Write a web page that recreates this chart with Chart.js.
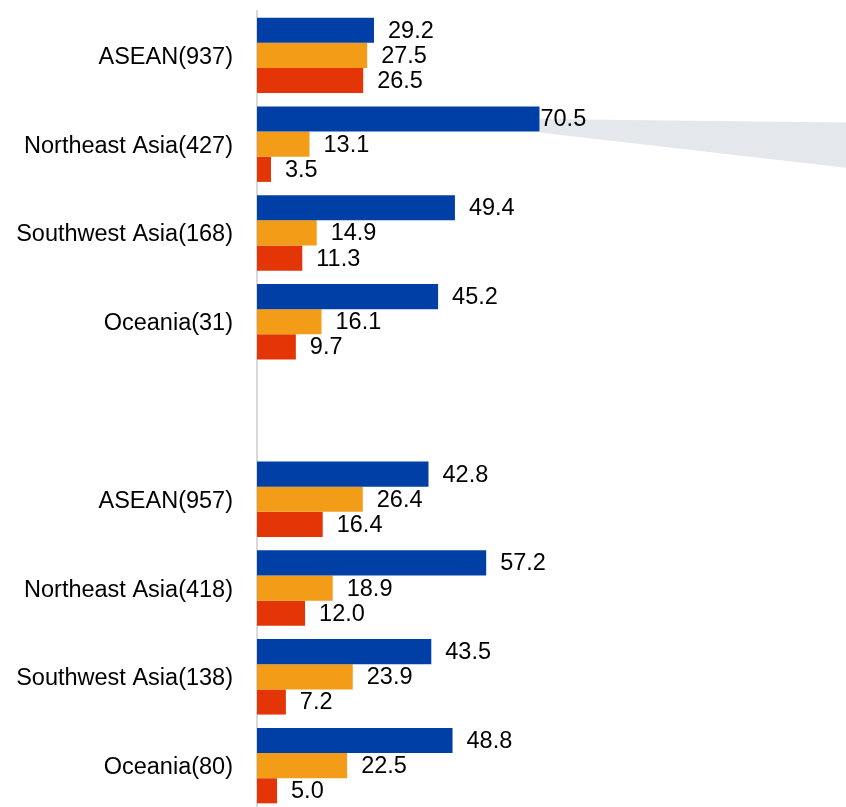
<!DOCTYPE html>
<html>
<head>
<meta charset="utf-8">
<script src="https://cdn.jsdelivr.net/npm/chart.js@4"></script>
<style>
  html, body { margin: 0; padding: 0; background: #fff; overflow: hidden; }
  #wrap { width: 846px; height: 810px; position: relative; }
</style>
</head>
<body>
<div id="wrap"><canvas id="regionChart"></canvas></div>
<script>
const categories = ['ASEAN(937)', 'Northeast Asia(427)', 'Southwest Asia(168)', 'Oceania(31)', '',
  'ASEAN(957)', 'Northeast Asia(418)', 'Southwest Asia(138)', 'Oceania(80)']
const blueValues = [29.2, 70.5, 49.4, 45.2, null, 42.8, 57.2, 43.5, 48.8]
const orangeValues = [27.5, 13.1, 14.9, 16.1, null, 26.4, 18.9, 23.9, 22.5]
const redValues = [26.5, 3.5, 11.3, 9.7, null, 16.4, 12.0, 7.2, 5.0]

// the bar the grey callout comes out of
const callout = { dataset: 0, index: 1 }

const font = { family: '"Liberation Sans", Arial, sans-serif', size: 23.5 }

const calloutWedge = {
  id: 'calloutWedge',
  beforeDatasetsDraw(chart) {
    const bar = chart.getDatasetMeta(callout.dataset).data[callout.index]
    if (!bar) return
    const ctx = chart.ctx
    const right = chart.width
    const h = bar.height
    ctx.save()
    ctx.fillStyle = '#e4e7ec'
    ctx.beginPath()
    ctx.moveTo(bar.x, bar.y)
    ctx.lineTo(right, bar.y + h * 0.14)
    ctx.lineTo(right, bar.y + h * 1.94)
    ctx.lineTo(bar.x, bar.y + h * 0.54)
    ctx.closePath()
    ctx.fill()
    ctx.restore()
  }
}

const valueLabels = {
  id: 'valueLabels',
  afterDatasetsDraw(chart) {
    const ctx = chart.ctx
    ctx.save()
    ctx.font = font.size + 'px ' + font.family
    ctx.fillStyle = '#000'
    ctx.textBaseline = 'middle'
    ctx.textAlign = 'left'
    chart.data.datasets.forEach((ds, di) => {
      chart.getDatasetMeta(di).data.forEach((bar, i) => {
        const v = ds.data[i]
        if (v == null) return
        const gap = (di === callout.dataset && i === callout.index) ? 1 : 14
        ctx.fillText(v.toFixed(1), bar.x + gap, bar.y + 1)
      })
    })
    ctx.restore()
  }
}

new Chart(document.getElementById('regionChart'), {
  type: 'bar',
  data: {
    labels: categories,
    datasets: [
      { data: blueValues, backgroundColor: '#0040a6' },
      { data: orangeValues, backgroundColor: '#f39c18' },
      { data: redValues, backgroundColor: '#e33506' }
    ]
  },
  options: {
    indexAxis: 'y',
    responsive: true,
    maintainAspectRatio: false,
    animation: false,
    layout: { padding: { top: 11, bottom: 0, left: 0, right: 0 } },
    datasets: { bar: { categoryPercentage: 0.85, barPercentage: 1.0 } },
    plugins: { legend: { display: false }, tooltip: { enabled: false } },
    scales: {
      x: { display: false, min: 0, max: 147 },
      y: {
        grid: { display: false },
        border: { display: true, color: '#d9d9d9', width: 2 },
        ticks: { color: '#000', font: font, padding: 16, labelOffset: 2 },
        afterFit(scale) {
          scale.width = 257
          scale.paddingTop = 0
          scale.paddingBottom = 0
        }
      }
    }
  },
  plugins: [calloutWedge, valueLabels]
})
</script>
</body>
</html>
